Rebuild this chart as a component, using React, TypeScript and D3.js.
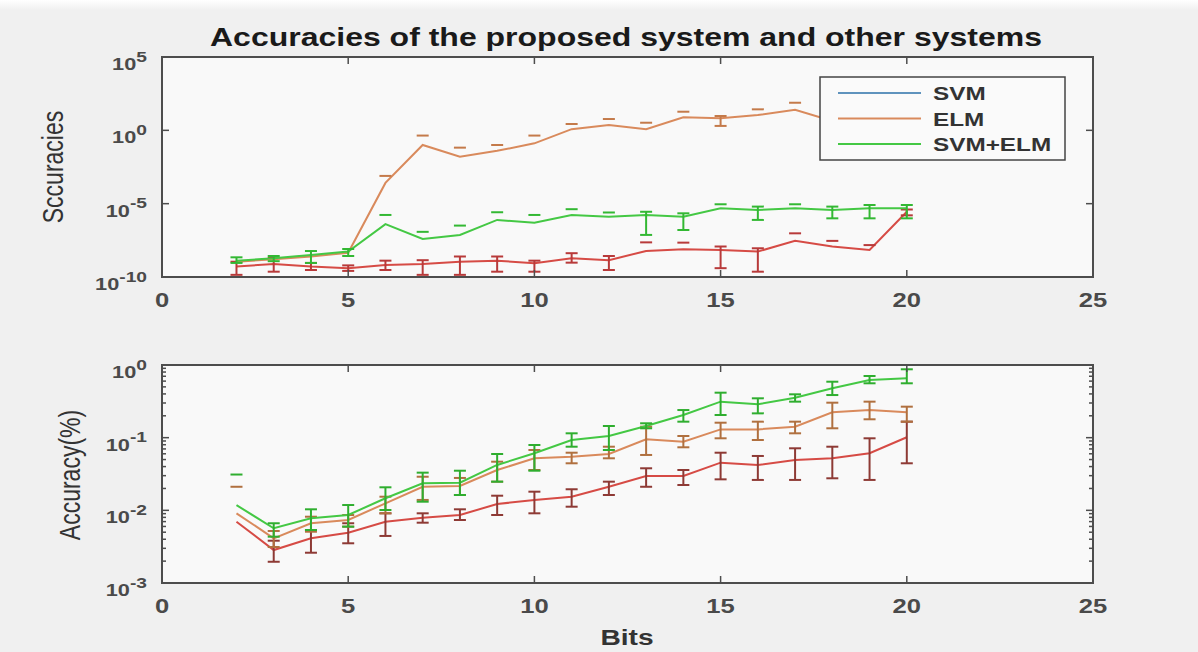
import React from 'react';
import * as d3 from 'd3';

// x values shared by every series
const bits = [2, 3, 4, 5, 6, 7, 8, 9, 10, 11, 12, 13, 14, 15, 16, 17, 18, 19, 20];
const xTicks = [0, 5, 10, 15, 20, 25];

// top panel ("Sccuracies"), null = lower bound not drawn on log axis
const topRed = [5.1e-10, 7.8e-10, 5.1e-10, 4.0e-10, 6.6e-10, 7.8e-10, 1.1e-9, 1.3e-9, 8.7e-10, 1.9e-9, 1.4e-9, 6.0e-9, 7.8e-9, 6.9e-9, 5.4e-9, 2.9e-8, 1.2e-8, 6.9e-9, 2.8e-6];
const topRedHi = [1.1e-9, 2.0e-9, 9.1e-10, 6.2e-10, 1.3e-9, 1.4e-9, 2.5e-9, 2.5e-9, 1.3e-9, 4.2e-9, 2.7e-9, 2.3e-8, 2.2e-8, 1.2e-8, 9.1e-9, 9.5e-8, 2.9e-8, 1.5e-8, 4.0e-6];
const topRedLo = [1.4e-10, 2.3e-10, 3.0e-10, 2.6e-10, 3.0e-10, 1.4e-10, 1.4e-10, 2.3e-10, 2.3e-10, 9.5e-10, 3.0e-10, null, null, 4.0e-10, 2.3e-10, null, null, null, 1.6e-6];

const topOrange = [1.1e-9, 1.6e-9, 2.5e-9, 4.5e-9, 2.6e-4, 0.1, 0.016, 0.04, 0.13, 1.2, 2.3, 1.2, 7.8, 6.6, 11, 25, 4.4, 5, 8];
const topOrangeHi = [null, null, null, null, 7.8e-4, 0.44, 0.066, 0.1, 0.44, 2.7, 5.9, 3.3, 18.6, 9.5, 27, 76, 40, 30, 40];
const topOrangeLo = [null, null, null, null, null, null, null, null, null, null, null, null, null, 2.0, null, null, null, null, null];

const topGreen = [1.3e-9, 1.9e-9, 3.2e-9, 5.4e-9, 4.0e-7, 3.9e-8, 7.4e-8, 7.8e-7, 5.0e-7, 1.7e-6, 1.3e-6, 1.7e-6, 1.3e-6, 4.9e-6, 3.7e-6, 4.9e-6, 3.7e-6, 4.9e-6, 4.9e-6];
const topGreenHi = [2.2e-9, 2.7e-9, 5.9e-9, 8.1e-9, 1.7e-6, 1.2e-7, 3.2e-7, 2.6e-6, 1.7e-6, 4.2e-6, 2.5e-6, 2.8e-6, 2.2e-6, 9.1e-6, 6.3e-6, 9.1e-6, 6.3e-6, 8.1e-6, 8.1e-6];
const topGreenLo = [9.1e-10, 1.2e-9, 9.1e-10, 2.7e-9, null, null, null, null, null, null, null, 7.4e-8, 1.6e-7, null, 7.8e-7, null, 1.0e-6, 1.0e-6, 1.0e-6];

// bottom panel ("Accuracy(%)")
const botRed = [0.00698, 0.00284, 0.00412, 0.00492, 0.00698, 0.00792, 0.00863, 0.01222, 0.01388, 0.0154, 0.0211, 0.0297, 0.0297, 0.0453, 0.0421, 0.0493, 0.052, 0.061, 0.1012];
const botRedHi = [null, 0.00382, 0.00536, 0.00664, 0.0091, 0.0091, 0.01033, 0.0159, 0.01806, 0.0195, 0.0248, 0.0379, 0.0359, 0.0621, 0.056, 0.0714, 0.0751, 0.098, 0.166];
const botRedLo = [null, 0.00196, 0.00261, 0.00352, 0.00444, 0.00676, 0.00736, 0.00863, 0.0091, 0.01122, 0.01626, 0.0211, 0.0223, 0.0267, 0.0262, 0.0262, 0.0276, 0.0262, 0.0444];

const botOrange = [0.0091, 0.00412, 0.00664, 0.00736, 0.0125, 0.0211, 0.0216, 0.0359, 0.052, 0.0547, 0.0596, 0.095, 0.0881, 0.13, 0.13, 0.1416, 0.2234, 0.24, 0.2234];
const botOrangeHi = [0.0211, 0.0052, 0.00817, 0.00863, 0.0154, 0.029, 0.0279, 0.0467, 0.0677, 0.0621, 0.0751, 0.1416, 0.1054, 0.1607, 0.166, 0.166, 0.303, 0.313, 0.267];
const botOrangeLo = [null, 0.00313, 0.00508, 0.00596, 0.0091, 0.0139, 0.01626, 0.0248, 0.0359, 0.0444, 0.052, 0.0578, 0.0737, 0.098, 0.0929, 0.1148, 0.1346, 0.179, 0.166];

const botGreen = [0.0118, 0.00566, 0.00777, 0.00863, 0.01465, 0.02355, 0.024, 0.0421, 0.061, 0.0929, 0.1054, 0.1448, 0.205, 0.313, 0.288, 0.355, 0.478, 0.622, 0.656];
const botGreenHi = [0.0311, 0.00664, 0.01033, 0.01183, 0.02075, 0.033, 0.0351, 0.0596, 0.0793, 0.1148, 0.1448, 0.1577, 0.24, 0.416, 0.348, 0.395, 0.589, 0.706, 0.873];
const botGreenLo = [null, 0.00434, 0.00536, 0.00596, 0.0101, 0.01315, 0.01626, 0.0248, 0.0351, 0.0751, 0.0677, 0.1346, 0.166, 0.205, 0.216, 0.313, 0.386, 0.56, 0.56];

const legendNames = ['SVM', 'ELM', 'SVM+ELM'];
const legendColors = ['#5f93bd', '#d98a5c', '#44c844'];

const FONT = '"Liberation Sans", Arial, sans-serif';
const SX = 1.28; // the picture is stretched sideways
const AXIS = '#4d4d4d';

const W = 1198;
const H = 652;
const LEFT = 162;
const RIGHT = 1093;

type Series = { v: number[]; hi: (number | null)[]; lo: (number | null)[]; line: string; err: string };

const x = d3.scaleLinear().domain([0, 25]).range([LEFT, RIGHT]);

function Stretch({ x, y, rotate, children, ...rest }: any) {
  return (
    <text
      transform={`translate(${x},${y}) scale(${SX},1)${rotate ? ` rotate(${rotate})` : ''}`}
      fontFamily={FONT}
      {...rest}
    >
      {children}
    </text>
  );
}

function Panel({ id, y, yTicks, minor, series, ylabel, labelY }: any) {
  const [y0, y1] = y.range();
  const line = d3
    .line<number>()
    .x((_, i) => x(bits[i]))
    .y((d) => y(d));
  const cap = 6;
  const minorTicks: number[] = [];
  if (minor) {
    const [a, b] = y.domain();
    for (let e = Math.log10(a); e < Math.log10(b); e++) {
      for (let m = 2; m <= 9; m++) minorTicks.push(m * Math.pow(10, e));
    }
  }
  return (
    <g>
      <defs>
        <clipPath id={id}>
          <rect x={LEFT} y={y1} width={RIGHT - LEFT} height={y0 - y1} />
        </clipPath>
      </defs>
      <rect x={LEFT} y={y1} width={RIGHT - LEFT} height={y0 - y1} fill="#f9f9f9" />
      <g clipPath={`url(#${id})`}>
        {series.map((s: Series, si: number) => (
          <g key={si}>
            <path d={line(s.v) || ''} fill="none" stroke={s.line} strokeWidth={2} />
            {s.v.map((_, i) => {
              const hi = s.hi[i];
              const lo = s.lo[i];
              if (hi == null) return null;
              const cx = x(bits[i]);
              return (
                <g key={i} stroke={s.err} strokeWidth={2}>
                  <line x1={cx - cap} x2={cx + cap} y1={y(hi)} y2={y(hi)} />
                  {lo != null && (
                    <>
                      <line x1={cx} x2={cx} y1={y(hi)} y2={y(lo)} />
                      <line x1={cx - cap} x2={cx + cap} y1={y(lo)} y2={y(lo)} />
                    </>
                  )}
                </g>
              );
            })}
          </g>
        ))}
      </g>
      {/* ticks */}
      <g stroke={AXIS} strokeWidth={1.5}>
        {xTicks.map((t) => (
          <g key={t}>
            <line x1={x(t)} x2={x(t)} y1={y0} y2={y0 - 7} />
            <line x1={x(t)} x2={x(t)} y1={y1} y2={y1 + 7} />
          </g>
        ))}
        {yTicks.map((t: number) => (
          <g key={t}>
            <line x1={LEFT} x2={LEFT + 7} y1={y(t)} y2={y(t)} />
            <line x1={RIGHT} x2={RIGHT - 7} y1={y(t)} y2={y(t)} />
          </g>
        ))}
        {minorTicks.map((t) => (
          <g key={t}>
            <line x1={LEFT} x2={LEFT + 4} y1={y(t)} y2={y(t)} />
            <line x1={RIGHT} x2={RIGHT - 4} y1={y(t)} y2={y(t)} />
          </g>
        ))}
      </g>
      <rect x={LEFT} y={y1} width={RIGHT - LEFT} height={y0 - y1} fill="none" stroke={AXIS} strokeWidth={2} />
      {xTicks.map((t) => (
        <Stretch key={t} x={x(t)} y={y0 + 30} textAnchor="middle" fontSize={20} fontWeight="bold" fill="#4a4a4a">
          {t}
        </Stretch>
      ))}
      {yTicks.map((t: number) => (
        <Stretch key={t} x={147} y={y(t) + 13} textAnchor="end" fontSize={17} fontWeight="bold" fill="#4a4a4a">
          <tspan>10</tspan>
          <tspan dy={-8.5} fontSize={15}>
            {String(Math.round(Math.log10(t)))}
          </tspan>
        </Stretch>
      ))}
      <Stretch x={ylabel.x} y={labelY} rotate={-90} textAnchor="middle" fontSize={23} fill="#333">
        {ylabel.text}
      </Stretch>
    </g>
  );
}

export default function App() {
  const yTop = d3.scaleLog().domain([1e-10, 1e5]).range([277, 57]);
  const yBot = d3.scaleLog().domain([1e-3, 1]).range([583, 365]);

  const topSeries: Series[] = [
    { v: topRed, hi: topRedHi, lo: topRedLo, line: '#d64b45', err: '#b83a3a' },
    { v: topOrange, hi: topOrangeHi, lo: topOrangeLo, line: '#d98a5c', err: '#c47a4a' },
    { v: topGreen, hi: topGreenHi, lo: topGreenLo, line: '#44c844', err: '#33b833' },
  ];
  const botSeries: Series[] = [
    { v: botRed, hi: botRedHi, lo: botRedLo, line: '#d64b45', err: '#8e3a35' },
    { v: botOrange, hi: botOrangeHi, lo: botOrangeLo, line: '#d98a5c', err: '#b0703f' },
    { v: botGreen, hi: botGreenHi, lo: botGreenLo, line: '#44c844', err: '#2fae2f' },
  ];

  const legY = d3.scalePoint<string>().domain(legendNames).range([93, 144]);

  return (
    <svg width={W} height={H} style={{ position: 'absolute', left: 0, top: 0, background: '#f0f0f0' }}>
      <defs>
        <linearGradient id="topFade" x1="0" y1="0" x2="0" y2="1">
          <stop offset="0" stopColor="#ffffff" />
          <stop offset="1" stopColor="#f0f0f0" />
        </linearGradient>
      </defs>
      <rect width={W} height={H} fill="#f0f0f0" />
      <rect width={W} height={10} fill="url(#topFade)" />
      <Stretch x={626} y={46} textAnchor="middle" fontSize={25} fontWeight="bold" fill="#1a1a1a">
        Accuracies of the proposed system and other systems
      </Stretch>
      <Panel
        id="clipTop"
        y={yTop}
        yTicks={[1e-10, 1e-5, 1, 1e5]}
        minor={false}
        series={topSeries}
        ylabel={{ text: 'Sccuracies', x: 63 }}
        labelY={167}
      />
      <Panel
        id="clipBot"
        y={yBot}
        yTicks={[1e-3, 1e-2, 1e-1, 1]}
        minor={true}
        series={botSeries}
        ylabel={{ text: 'Accuracy(%)', x: 80 }}
        labelY={475}
      />
      {/* legend */}
      <g>
        <rect x={820} y={77} width={245} height={83} fill="#fafafa" stroke="#444" strokeWidth={1.5} />
        {legendNames.map((n, i) => (
          <g key={n}>
            <line x1={838} x2={921} y1={legY(n)} y2={legY(n)} stroke={legendColors[i]} strokeWidth={2} />
            <Stretch x={933} y={(legY(n) || 0) + 7} fontSize={19} fontWeight="bold" fill="#333">
              {n}
            </Stretch>
          </g>
        ))}
      </g>
      <Stretch x={627} y={645} textAnchor="middle" fontSize={22} fontWeight="bold" fill="#333">
        Bits
      </Stretch>
    </svg>
  );
}
